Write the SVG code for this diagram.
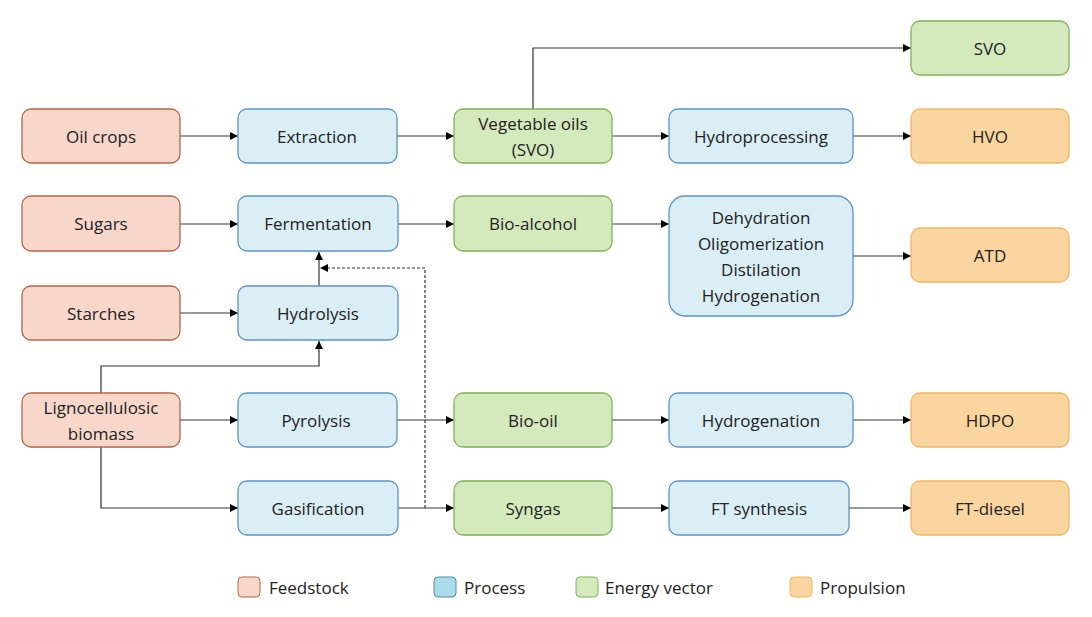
<svg xmlns="http://www.w3.org/2000/svg" width="1092" height="617" viewBox="0 0 1092 617">
<defs>
<marker id="a" viewBox="0 0 10 10" refX="10" refY="5" markerWidth="8" markerHeight="8" markerUnits="userSpaceOnUse" orient="auto"><path d="M0,0L10,5L0,10z" fill="#000"/></marker>
<style>
text{font-family:"Open Sans","Liberation Sans",sans-serif;font-size:17px;fill:#222;text-anchor:middle;dominant-baseline:central}
.f rect{fill:#f8d7cb;stroke:#b5634a;stroke-width:1.3}
.p rect{fill:#daeef5;stroke:#5b93c9;stroke-width:1.3}
.e rect{fill:#d4e9bc;stroke:#7fb356;stroke-width:1.3}
.o rect{fill:#fad5a0;stroke:#f0b860;stroke-width:1.3}
.c path{fill:none;stroke:#333;stroke-width:1.2;marker-end:url(#a)}
.lg text{text-anchor:start}
</style>
</defs>
<rect width="1092" height="617" fill="#fff"/>
<g class="c">
<path d="M180,136H238"/><path d="M397,136H454"/><path d="M612,136H669"/><path d="M853,136H911"/>
<path d="M533,109V48H911"/>
<path d="M180,224H238"/><path d="M398,224H454"/><path d="M612,224H669"/><path d="M853,256H911"/>
<path d="M180,313H238"/><path d="M319,286V252"/>
<path d="M101,393V366H319V341"/>
<path d="M180,420H238"/><path d="M397,420H454"/><path d="M612,420H669"/><path d="M853,420H911"/>
<path d="M101,447V508H238"/><path d="M398,508H454"/><path d="M612,508H669"/><path d="M849,508H911"/>
<path d="M425,508V268H320" stroke-dasharray="3,2"/>
</g>
<g id="oilcrops" class="f"><rect x="22" y="109" width="158" height="54" rx="9"/><text x="101" y="136">Oil crops</text></g>
<g id="sugars" class="f"><rect x="22" y="196" width="158" height="55" rx="9"/><text x="101" y="223">Sugars</text></g>
<g id="starches" class="f"><rect x="22" y="286" width="158" height="54" rx="9"/><text x="101" y="313">Starches</text></g>
<g id="ligno" class="f"><rect x="22" y="393" width="158" height="54" rx="9"/><text x="101" y="407">Lignocellulosic</text><text x="101" y="433">biomass</text></g>
<g id="extraction" class="p"><rect x="238" y="109" width="159" height="54" rx="9"/><text x="317" y="136">Extraction</text></g>
<g id="fermentation" class="p"><rect x="238" y="196" width="160" height="55" rx="9"/><text x="318" y="223">Fermentation</text></g>
<g id="hydrolysis" class="p"><rect x="238" y="286" width="160" height="54" rx="9"/><text x="318" y="313">Hydrolysis</text></g>
<g id="pyrolysis" class="p"><rect x="238" y="393" width="159" height="54" rx="9"/><text x="316" y="420">Pyrolysis</text></g>
<g id="gasification" class="p"><rect x="238" y="481" width="160" height="54" rx="9"/><text x="318" y="508">Gasification</text></g>
<g id="vegoils" class="e"><rect x="454" y="109" width="158" height="54" rx="9"/><text x="533" y="123">Vegetable oils</text><text x="533" y="149">(SVO)</text></g>
<g id="bioalcohol" class="e"><rect x="454" y="196" width="158" height="55" rx="9"/><text x="533" y="223">Bio-alcohol</text></g>
<g id="biooil" class="e"><rect x="454" y="393" width="158" height="54" rx="9"/><text x="533" y="420">Bio-oil</text></g>
<g id="syngas" class="e"><rect x="454" y="481" width="158" height="54" rx="9"/><text x="533" y="508">Syngas</text></g>
<g id="hydroprocessing" class="p"><rect x="669" y="109" width="184" height="54" rx="9"/><text x="761" y="136">Hydroprocessing</text></g>
<g id="dehydration" class="p"><rect x="669" y="196" width="184" height="120" rx="16"/><text x="761" y="217">Dehydration</text><text x="761" y="243">Oligomerization</text><text x="761" y="269">Distilation</text><text x="761" y="295">Hydrogenation</text></g>
<g id="hydrogenation" class="p"><rect x="669" y="393" width="184" height="54" rx="9"/><text x="761" y="420">Hydrogenation</text></g>
<g id="ftsynthesis" class="p"><rect x="669" y="481" width="180" height="54" rx="9"/><text x="759" y="508">FT synthesis</text></g>
<g id="svo" class="e"><rect x="911" y="21" width="158" height="54" rx="9"/><text x="990" y="48">SVO</text></g>
<g id="hvo" class="o"><rect x="911" y="109" width="158" height="54" rx="9"/><text x="990" y="136">HVO</text></g>
<g id="atd" class="o"><rect x="911" y="228" width="158" height="54" rx="9"/><text x="990" y="255">ATD</text></g>
<g id="hdpo" class="o"><rect x="911" y="393" width="158" height="54" rx="9"/><text x="990" y="420">HDPO</text></g>
<g id="ftdiesel" class="o"><rect x="911" y="481" width="158" height="54" rx="9"/><text x="990" y="508">FT-diesel</text></g>
<g id="legend" class="lg">
<rect x="238" y="577" width="22" height="20" rx="4" fill="#f8d7cb" stroke="#b5634a"/><text x="269" y="587">Feedstock</text>
<rect x="434" y="577" width="22" height="20" rx="4" fill="#aadbe8" stroke="#4f8fa6"/><text x="464" y="587">Process</text>
<rect x="576" y="577" width="22" height="20" rx="4" fill="#d4e9bc" stroke="#7fb356"/><text x="605" y="587">Energy vector</text>
<rect x="790" y="577" width="22" height="20" rx="4" fill="#fad5a0" stroke="#f0b860"/><text x="820" y="587">Propulsion</text>
</g>
</svg>
